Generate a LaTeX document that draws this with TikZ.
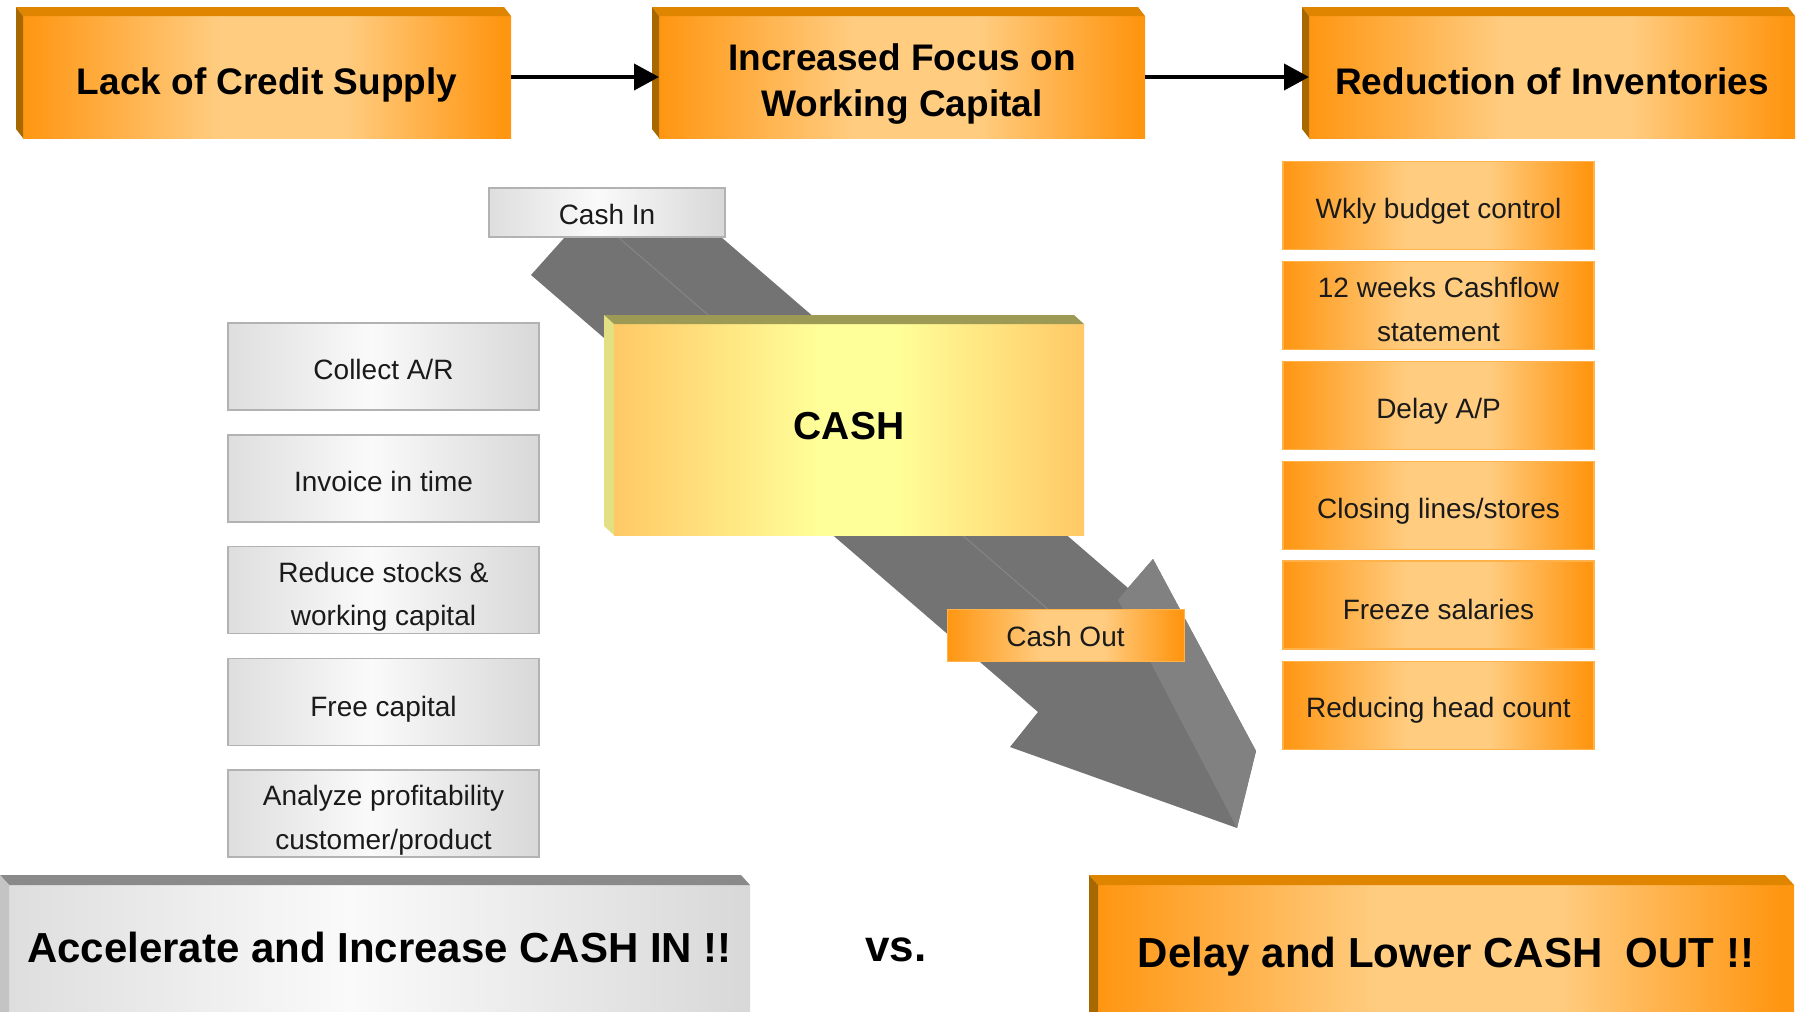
\documentclass[tikz,border=0pt]{standalone}
\usepackage{fontspec}
\setmainfont{Liberation Sans}
\usetikzlibrary{arrows.meta,calc}
\definecolor{or1}{HTML}{FF9612}
\definecolor{or2}{HTML}{FFCC80}
\definecolor{orborder}{HTML}{FFB24A}
\definecolor{ortop}{HTML}{E08500}
\definecolor{orside}{HTML}{A86800}
\definecolor{gr1}{HTML}{DEDEDE}
\definecolor{gr2}{HTML}{FAFAFA}
\definecolor{gr3}{HTML}{D8D8D8}
\definecolor{grborder}{HTML}{B2B2B2}
\definecolor{grtop}{HTML}{8A8A8A}
\definecolor{grside}{HTML}{C4C4C4}
\definecolor{ye1}{HTML}{FFC966}
\definecolor{ye2}{HTML}{FFFF99}
\definecolor{yetop}{HTML}{9C9A55}
\definecolor{yeside}{HTML}{E2E083}
\definecolor{arrdark}{HTML}{737373}
\definecolor{arrlight}{HTML}{818181}
\definecolor{arrridge}{HTML}{868686}
\definecolor{txt}{HTML}{1A1A1A}
\pgfdeclarehorizontalshading{orshade}{100bp}{color(0bp)=(or1); color(25bp)=(or1); color(45bp)=(or2); color(58bp)=(or2); color(74bp)=(or1); color(100bp)=(or1)}
\pgfdeclarehorizontalshading{grshade}{100bp}{color(0bp)=(gr1); color(25bp)=(gr1); color(48bp)=(gr2); color(75bp)=(gr3); color(100bp)=(gr3)}
\pgfdeclarehorizontalshading{yeshade}{100bp}{color(0bp)=(ye1); color(25bp)=(ye1); color(47bp)=(ye2); color(55bp)=(ye2); color(75bp)=(ye1); color(100bp)=(ye1)}
\tikzset{
  base/.style={inner sep=0pt, outer sep=0pt, align=center},
  topbox/.style={base, shading=orshade, minimum height=122pt},
  toptext/.style={base, font=\fontsize{37}{46}\selectfont\bfseries},
  bigbox/.style={base, minimum height=140pt},
  bigtext/.style={base, font=\fontsize{42}{50}\selectfont\bfseries},
  smallor/.style={base, shading=orshade, draw=orborder, line width=1.2pt, minimum width=311pt, minimum height=88pt},
  smallgr/.style={base, shading=grshade, draw=grborder, line width=1.5pt, minimum width=311pt, minimum height=87pt},
  smalltext/.style={base, font=\fontsize{28}{43.5}\selectfont, text=txt},
  conn/.style={line width=4pt, -{Triangle[length=25pt,width=26pt]}},
}
\newcommand\mybevel[5]{%
  \fill[#2] ($(#1.north west)+(#4,#5)$) -- ($(#1.north east)+(#4,#5)$) -- (#1.north east) -- (#1.north west) -- cycle;
  \fill[#3] ($(#1.north west)+(#4,#5)$) -- (#1.north west) -- (#1.south west) -- ($(#1.south west)+(#4,#5)$) -- cycle;
}
\begin{document}
\begin{tikzpicture}[x=1pt,y=-1pt]
\useasboundingbox (0,0) rectangle (1805,1012);
\fill[white] (0,0) rectangle (1805,1012);

% top row
\node[topbox, minimum width=488pt, label={[toptext, yshift=-8pt]center:Lack of Credit Supply}] (b1) at (267,77) {};
\node[topbox, minimum width=486pt, label={[toptext, yshift=-7pt]center:{Increased Focus on\\Working Capital}}] (b2) at (902,77) {};
\node[topbox, minimum width=486pt, label={[toptext, yshift=-4pt]center:Reduction of Inventories}] (b3) at (1552,77) {};
\mybevel{b1}{ortop}{orside}{-7}{-9}
\mybevel{b2}{ortop}{orside}{-7}{-9}
\mybevel{b3}{ortop}{orside}{-7}{-9}
\draw[conn] (b1.east) -- (b2.west);
\draw[conn] (b2.east) -- (b3.west);

% big arrow
\fill[arrdark] (531,275) -- (565,237) -- (721,237) -- (1128,588) -- (1153,559) -- (1256,751) -- (1237,828) -- (1010,747) -- (1038,712) -- cycle;
\fill[arrlight] (1128,588) -- (1153,559) -- (1256,751) -- (1237,828) -- (1118,600) -- cycle;
\draw[arrridge, line width=1pt] (618,237) -- (1050,611);

% cash in / cash / cash out
\node[base, shading=grshade, draw=grborder, line width=1.5pt, minimum width=236pt, minimum height=49pt, label={[smalltext, yshift=-2pt]center:Cash In}] (cin) at (607,212.5) {};
\node[base, shading=yeshade, minimum width=470pt, minimum height=211pt, label={[base, font=\fontsize{39}{46}\selectfont\bfseries, yshift=3pt]center:CASH}] (cash) at (849,429.5) {};
\mybevel{cash}{yetop}{yeside}{-10}{-9}
\node[base, shading=orshade, draw=orborder, line width=1pt, minimum width=237pt, minimum height=52pt, label={[smalltext, yshift=-1pt]center:Cash Out}] (cout) at (1065.5,635) {};

% left column
\node[smallgr, label={[smalltext, yshift=-3pt]center:Collect A/R}] (l1) at (383.5,366.5) {};
\node[smallgr, label={[smalltext, yshift=-3pt]center:Invoice in time}] (l2) at (383.5,478.5) {};
\node[smallgr, label={[smalltext, yshift=-7pt]center:{Reduce stocks \&\\working capital}}] (l3) at (383.5,590) {};
\node[smallgr, label={[smalltext, yshift=-7pt]center:Free capital}] (l4) at (383.5,702) {};
\node[smallgr, label={[smalltext, yshift=-7pt]center:{Analyze profitability\\customer/product}}] (l5) at (383.5,813.5) {};

% right column
\node[smallor, label={[smalltext, yshift=-6pt]center:Wkly budget control}] (r1) at (1438.5,205.5) {};
\node[smallor, label={[smalltext, yshift=-4pt]center:{12 weeks Cashflow\\statement}}] (r2) at (1438.5,305.5) {};
\node[smallor, label={[smalltext, yshift=-6pt]center:Delay A/P}] (r3) at (1438.5,405.5) {};
\node[smallor, label={[smalltext, yshift=-6pt]center:Closing lines/stores}] (r4) at (1438.5,505.5) {};
\node[smallor, label={[smalltext, yshift=-4pt]center:Freeze salaries}] (r5) at (1438.5,605) {};
\node[smallor, label={[smalltext, yshift=-5pt]center:Reducing head count}] (r6) at (1438.5,705.5) {};

% bottom row
\node[bigbox, shading=grshade, minimum width=741pt, label={[bigtext, yshift=8pt]center:Accelerate and Increase CASH IN !!}] (bl) at (379.5,955) {};
\mybevel{bl}{grtop}{grside}{-9}{-10}
\node[bigbox, shading=orshade, minimum width=696pt, label={[bigtext, yshift=-2pt]center:Delay and Lower CASH~~OUT !!}] (br) at (1446,955) {};
\mybevel{br}{ortop}{orside}{-9}{-10}
\node[base, font=\fontsize{44}{50}\selectfont\bfseries] (vs) at (896,950) {vs.};
\end{tikzpicture}
\end{document}
